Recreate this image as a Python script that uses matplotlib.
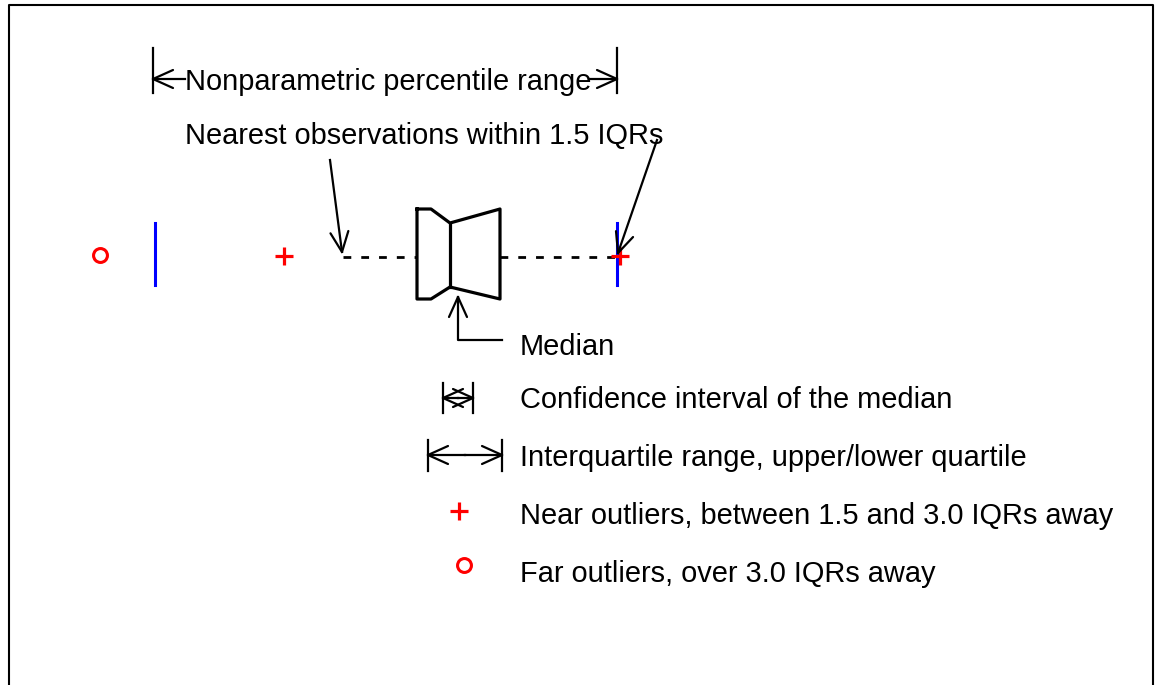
import numpy as np
import matplotlib
matplotlib.use('Agg')
import matplotlib.pyplot as plt

# box plot statistics (horizontal axis, same units as the drawing)
far_outliers = [100]
near_outliers = [284, 620]
pct_range = [155, 617]          # nonparametric percentile range ends
whiskers = [343, 617]           # nearest observations within 1.5 IQRs
q1, median, q3 = 417, 450, 500
notch_lo = 431

legend_labels = [
    'Median',
    'Confidence interval of the median',
    'Interquartile range, upper/lower quartile',
    'Near outliers, between 1.5 and 3.0 IQRs away',
    'Far outliers, over 3.0 IQRs away',
]
top_labels = ['Nonparametric percentile range',
              'Nearest observations within 1.5 IQRs']

RED, BLUE, K = '#ff0000', '#0000ff', 'black'
FONT = dict(family='Liberation Sans', fontsize=20.9, color=K)

fig = plt.figure(figsize=(11.58, 6.85), dpi=100)
ax = fig.add_axes([0, 0, 1, 1])
ax.set_xlim(0, 1158)
ax.set_ylim(685, 0)
ax.axis('off')


def head(tip, frm, length=20, half=9, lw=1.6):
    tip, frm = np.array(tip, float), np.array(frm, float)
    d = (tip - frm) / np.linalg.norm(tip - frm)
    n = np.array([-d[1], d[0]])
    for s in (1, -1):
        p = tip - d * length + s * n * half
        ax.plot([tip[0], p[0]], [tip[1], p[1]], color=K, lw=lw,
                solid_capstyle='round')


def arrow(frm, tip, **kw):
    ax.plot([frm[0], tip[0]], [frm[1], tip[1]], color=K, lw=1.6)
    head(tip, frm, **kw)


# frame
ax.plot([9, 9, 1153, 1153], [700, 5, 5, 700], color=K, lw=1.5,
        clip_on=False)

# main row
y0 = 257
ax.plot(far_outliers, [255] * len(far_outliers), 'o', mfc='none', mec=RED,
        ms=10, mew=2.2)
for x in pct_range:
    ax.plot([x, x], [223, 285], color=BLUE, lw=2.2)
ax.plot([whiskers[0], q1], [y0, y0], color=K, lw=2, dashes=(2.8, 3.6))
ax.plot([q3, whiskers[1]], [y0, y0], color=K, lw=2, dashes=(2.8, 3.6))
ax.plot(near_outliers, [256] * len(near_outliers), '+', color=RED,
        ms=13, mew=2.3)

# notched box
top, bot, ntop, nbot = 209, 299, 223, 287
bx = [q1, notch_lo, median, q3, q3, median, notch_lo, q1, q1]
by = [top, top, ntop, top, bot, nbot, bot, bot, top]
ax.plot(bx, by, color=K, lw=2.3, solid_joinstyle='round')
ax.plot([median, median], [ntop, nbot], color=K, lw=2.3)

# percentile range annotation
for x in [153, 617]:
    ax.plot([x, x], [48, 93], color=K, lw=1.6)
arrow((185, 79), (153, 79))
arrow((590, 79), (617, 79))
ax.text(185, 90, top_labels[0], ha='left', va='baseline', **FONT)

# nearest observations
ax.text(185, 144, top_labels[1], ha='left', va='baseline', **FONT)
arrow((330, 160), (342, 252))
arrow((657, 140), (618, 253))

# median pointer
ax.plot([458, 458, 502], [297, 340, 340], color=K, lw=1.6)
head((458, 297), (458, 340))

# legend
text_y = [355, 408, 466, 524, 582]
for lbl, y in zip(legend_labels, text_y):
    ax.text(520, y, lbl, ha='left', va='baseline', **FONT)

# confidence interval marker
for x in [443, 473]:
    ax.plot([x, x], [383, 413], color=K, lw=1.6)
arrow((458, 398), (443, 398))
arrow((458, 398), (473, 398))

# interquartile marker
for x in [428, 502]:
    ax.plot([x, x], [440, 471], color=K, lw=1.6)
arrow((465, 455), (428, 455))
arrow((465, 455), (502, 455))

ax.plot([459], [511], '+', color=RED, ms=13, mew=2.3)
ax.plot([464], [565], 'o', mfc='none', mec=RED, ms=10, mew=2.2)

fig.savefig('out.png', dpi=100)
